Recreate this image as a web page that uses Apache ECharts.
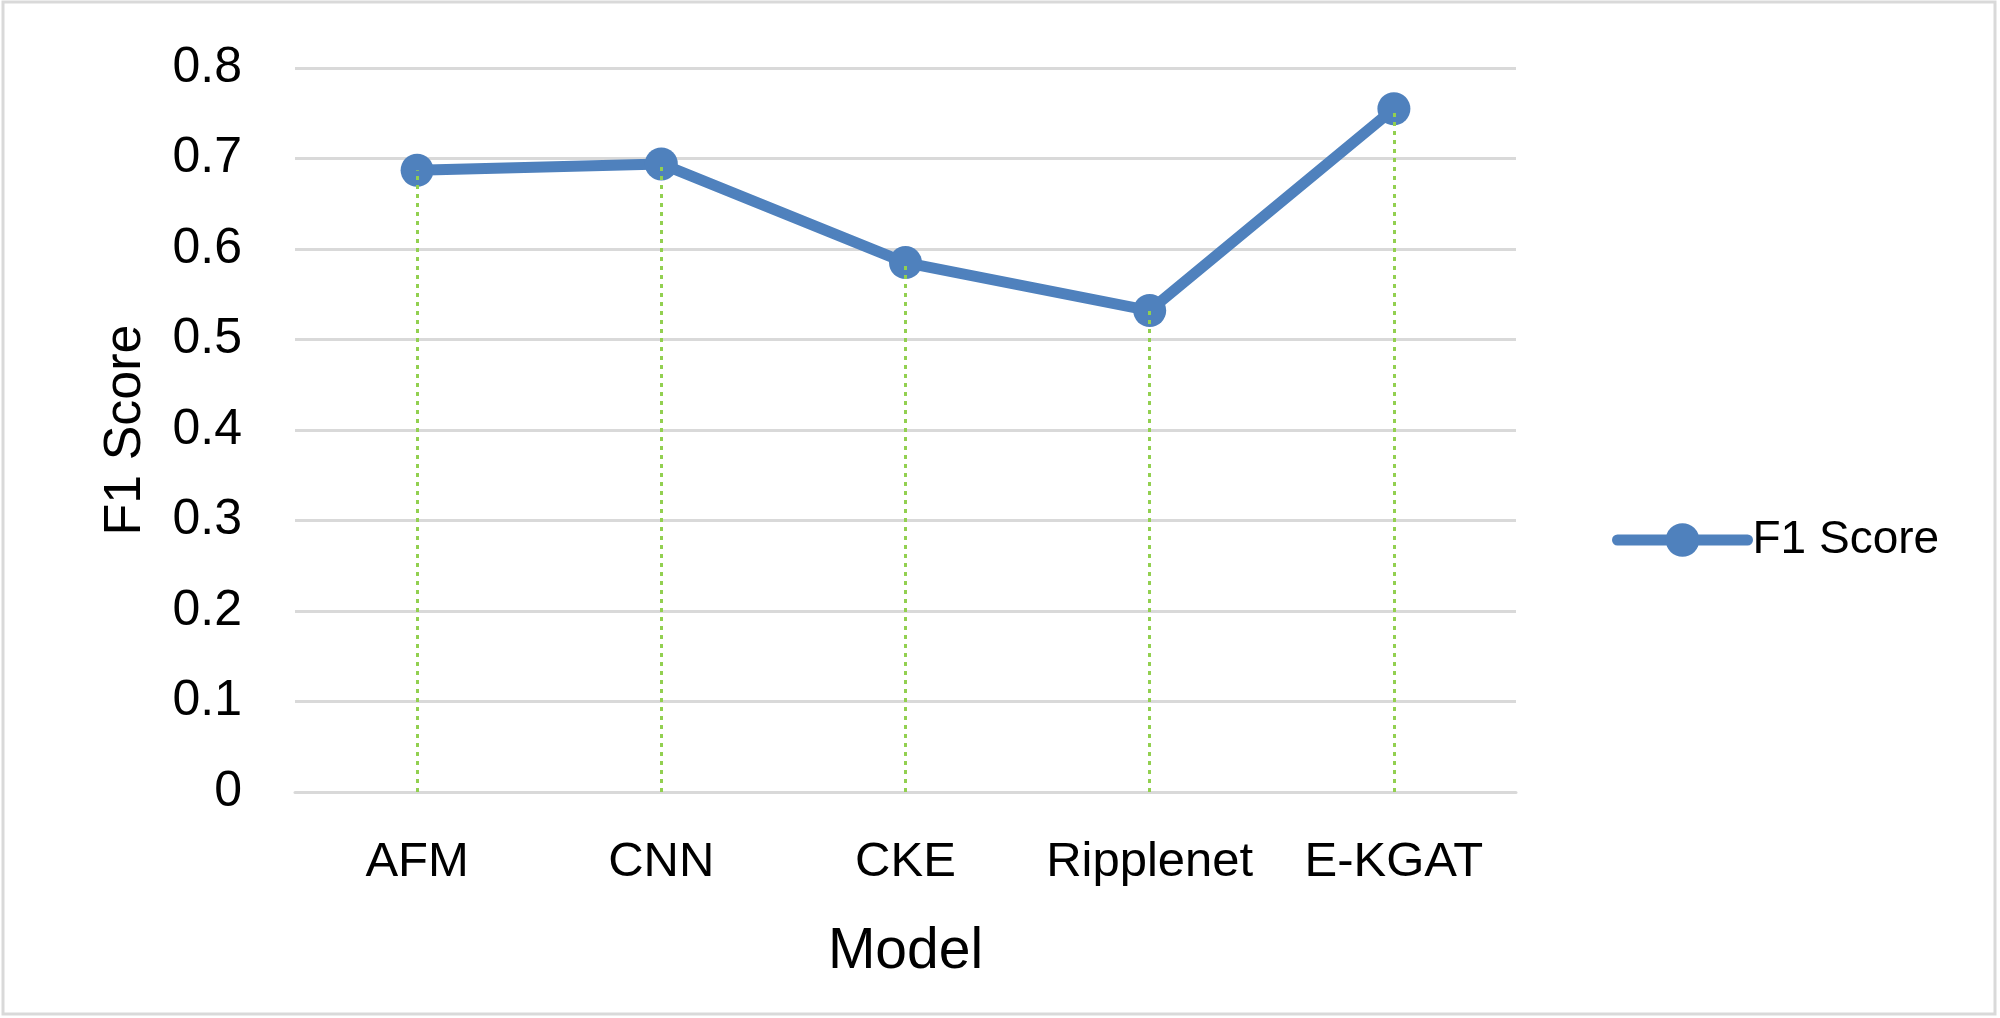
<!DOCTYPE html>
<html>
<head>
<meta charset="utf-8">
<script src="https://cdn.jsdelivr.net/npm/echarts@6/dist/echarts.min.js"></script>
<style>
html,body{margin:0;padding:0;background:#fff;}
#chart{width:2000px;height:1018px;}
</style>
</head>
<body>
<div id="chart"></div>
<script>
const categories = ['AFM', 'CNN', 'CKE', 'Ripplenet', 'E-KGAT'];
const f1Scores = [0.687, 0.694, 0.585, 0.532, 0.755];
const yTicks = [0, 0.1, 0.2, 0.3, 0.4, 0.5, 0.6, 0.7, 0.8];
const seriesName = 'F1 Score';
const xAxisTitle = 'Model';
const yAxisTitle = 'F1 Score';

const FONT = '"Liberation Sans", Arial, sans-serif';
const chart = echarts.init(document.getElementById('chart'));

const dropLines = categories.map((c, i) => [
  { coord: [c, 0] },
  { coord: [c, f1Scores[i]] }
]);

chart.setOption({
  animation: false,
  backgroundColor: '#ffffff',
  graphic: [{
    type: 'rect',
    shape: { x: 3, y: 2, width: 1992, height: 1012 },
    style: { fill: 'none', stroke: '#d9d9d9', lineWidth: 3 },
    silent: true
  }],
  grid: { left: 295, right: 484, top: 68, bottom: 226, containLabel: false },
  legend: {
    data: [seriesName],
    left: 1607,
    top: 512,
    itemWidth: 130,
    itemHeight: 42,
    itemGap: 10,
    lineStyle: { width: 11, color: '#4f81bd', cap: 'round' },
    textStyle: { fontFamily: FONT, fontSize: 46, color: '#000' }
  },
  xAxis: {
    type: 'category',
    data: categories,
    boundaryGap: true,
    name: xAxisTitle,
    nameLocation: 'middle',
    nameGap: 132,
    nameTextStyle: { fontFamily: FONT, fontSize: 57, color: '#000' },
    axisLine: { show: true, lineStyle: { color: '#d9d9d9', width: 3 } },
    axisTick: { show: false },
    axisLabel: { fontFamily: FONT, fontSize: 49, color: '#000', margin: 46, interval: 0 }
  },
  yAxis: {
    type: 'value',
    min: yTicks[0],
    max: yTicks[yTicks.length - 1],
    interval: 0.1,
    name: yAxisTitle,
    nameLocation: 'middle',
    nameRotate: 90,
    nameGap: 143,
    nameTextStyle: { fontFamily: FONT, fontSize: 52, color: '#000' },
    axisLine: { show: false },
    axisTick: { show: false },
    splitLine: { show: true, lineStyle: { color: '#d9d9d9', width: 3 } },
    axisLabel: {
      fontFamily: FONT, fontSize: 50, color: '#000', margin: 53,
      formatter: v => String(Math.round(v * 10) / 10)
    }
  },
  series: [{
    name: seriesName,
    type: 'line',
    data: f1Scores,
    symbol: 'circle',
    symbolSize: 33,
    lineStyle: { color: '#4f81bd', width: 11 },
    itemStyle: { color: '#4f81bd' },
    markLine: {
      silent: true,
      symbol: ['none', 'none'],
      label: { show: false },
      lineStyle: { color: '#92d050', type: [4, 5], width: 3, opacity: 1 },
      data: dropLines,
      z: 10
    },
    z: 3
  }]
});
</script>
</body>
</html>
